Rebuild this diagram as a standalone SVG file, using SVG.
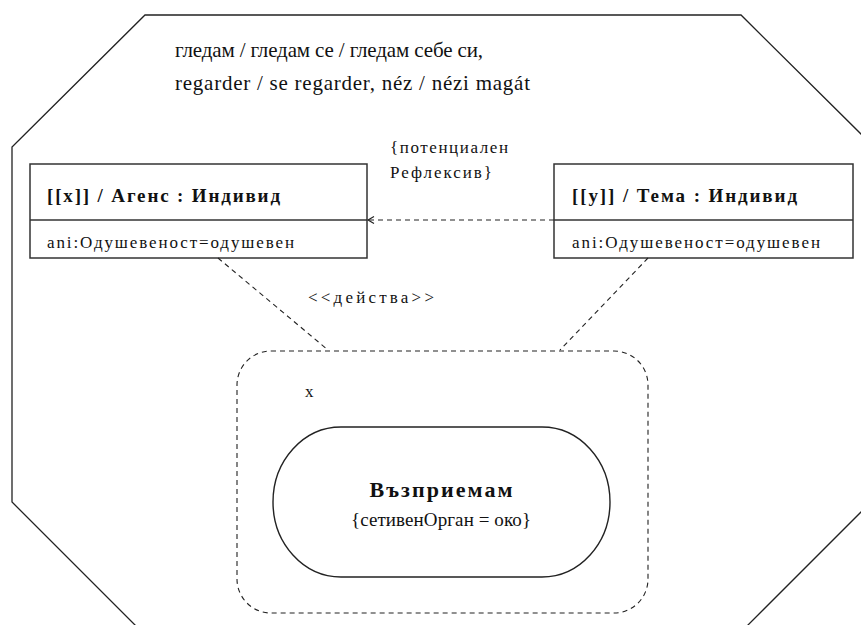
<svg xmlns="http://www.w3.org/2000/svg" width="861" height="625" viewBox="0 0 861 625">
  <style>
    .frame { fill: none; stroke: #222; stroke-width: 1.3; }
    .box { fill: #fff; stroke: #333; stroke-width: 1.5; }
    .dash { fill: none; stroke: #222; stroke-width: 1.1; stroke-dasharray: 5 4; }
    .txt { font-family: "Liberation Serif", "DejaVu Serif", serif; fill: #111; }
    .big { font-size: 21px; }
    .small { font-size: 17px; }
    .title { font-size: 19px; font-weight: bold; }
    .attr { font-size: 17px; }
  </style>
  <defs>
    <marker id="open-arrow" markerWidth="10" markerHeight="10" refX="7" refY="5" orient="auto" markerUnits="userSpaceOnUse">
      <path d="M1,1.5 L7,5 L1,8.5" fill="none" stroke="#222" stroke-width="1.2"/>
    </marker>
  </defs>
  <rect width="861" height="625" fill="#fff"/>

  <!-- octagonal frame, partly running off the page -->
  <polygon id="frame" class="frame" points="145,15 741,15 863,136 863,510 733,640 150,640 12,502 12,147"/>

  <g id="heading" class="txt big">
    <text x="175" y="57" textLength="308">гледам / гледам се / гледам себе си,</text>
    <text x="175" y="90" textLength="355">regarder / se regarder, néz / nézi magát</text>
  </g>

  <g id="agent">
    <rect class="box" x="30" y="164" width="337" height="94"/>
    <line class="box" x1="30" y1="220" x2="367" y2="220"/>
    <text class="txt title" x="47" y="202" textLength="233">[[x]] / Агенс : Индивид</text>
    <text class="txt attr" x="47" y="248" textLength="247">ani:Одушевеност=одушевен</text>
  </g>

  <g id="theme">
    <rect class="box" x="554" y="164" width="299" height="94"/>
    <line class="box" x1="554" y1="220" x2="853" y2="220"/>
    <text class="txt title" x="572" y="202" textLength="225">[[y]] / Тема : Индивид</text>
    <text class="txt attr" x="572" y="248" textLength="248">ani:Одушевеност=одушевен</text>
  </g>

  <g id="action">
    <rect class="dash" x="237" y="351" width="411" height="262" rx="34" ry="34"/>
    <text class="txt small" x="305" y="397">x</text>
    <rect x="273" y="427" width="337" height="150" rx="68" ry="75" fill="#fff" stroke="#222" stroke-width="1.4"/>
    <text class="txt" x="441" y="497" text-anchor="middle" font-size="22" font-weight="bold" textLength="143">Възприемам</text>
    <text class="txt" x="441" y="526" text-anchor="middle" font-size="19" textLength="180">{сетивенОрган = око}</text>
  </g>

  <!-- connectors -->
  <g id="connectors">
    <line class="dash" x1="554" y1="220" x2="368" y2="220" marker-end="url(#open-arrow)"/>
    <line class="dash" x1="218" y1="258" x2="328" y2="350"/>
    <line class="dash" x1="648" y1="258" x2="560" y2="350"/>
    <g class="txt small">
      <text x="390" y="153" textLength="118">{потенциален</text>
      <text x="390" y="178" textLength="102">Рефлексив}</text>
      <text x="308" y="303" textLength="126">&lt;&lt;действа&gt;&gt;</text>
    </g>
  </g>
</svg>
